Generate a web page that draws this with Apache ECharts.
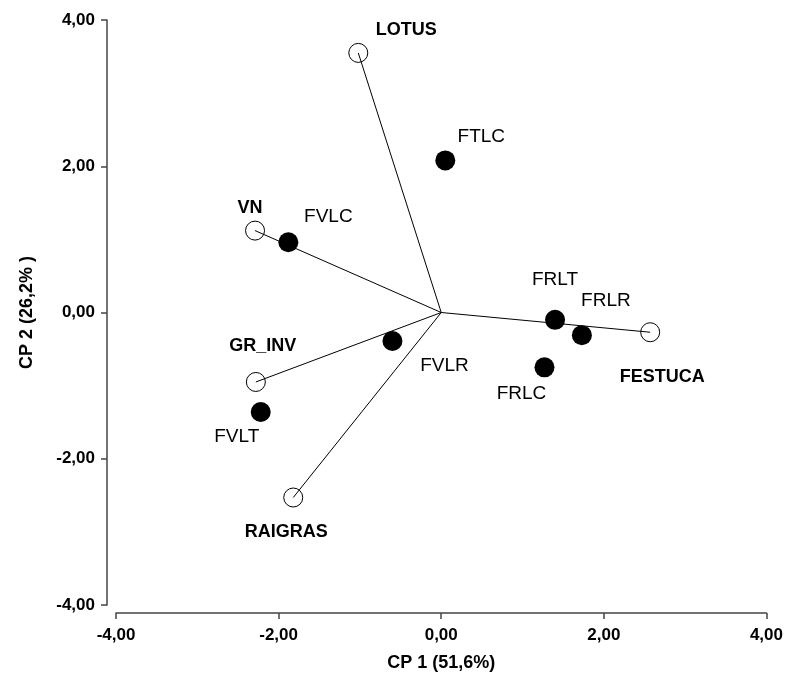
<!DOCTYPE html>
<html>
<head>
<meta charset="utf-8">
<script src="https://cdn.jsdelivr.net/npm/echarts@6/dist/echarts.min.js"></script>
<style>
  html, body { margin: 0; padding: 0; background: #fff; }
  #chart { width: 786px; height: 677px; }
</style>
</head>
<body>
<div id="chart"></div>
<script>
// Variables (vectors drawn from the origin, hollow markers)
const variables = ['LOTUS', 'VN', 'GR_INV', 'RAIGRAS', 'FESTUCA'];
const varX = [-1.02, -2.29, -2.28, -1.82, 2.57];
const varY = [3.55, 1.12, -0.95, -2.53, -0.27];

// Treatments (filled markers)
const sites = ['FTLC', 'FVLC', 'FVLR', 'FVLT', 'FRLT', 'FRLR', 'FRLC'];
const siteX = [0.05, -1.88, -0.60, -2.22, 1.40, 1.73, 1.27];
const siteY = [2.08, 0.96, -0.39, -1.36, -0.10, -0.31, -0.75];

// Axis ticks
const xTicks = [-4, -2, 0, 2, 4];
const yTicks = [-4, -2, 0, 2, 4];
const xName = 'CP 1 (51,6%)';
const yName = 'CP 2 (26,2% )';

// Label placement (pixel offsets from each marker)
const labelOffset = {
  LOTUS: [48, -23], VN: [-5, -23], GR_INV: [7, -36], RAIGRAS: [-7, 35], FESTUCA: [12, 45],
  FTLC: [36, -24], FVLC: [40, -26], FVLR: [52, 25], FVLT: [-24, 25],
  FRLT: [0, -40], FRLR: [24, -34], FRLC: [-23, 26]
};

const fmt = v => v.toFixed(2).replace('.', ',');
const axisColor = '#444';
const tickFont = { fontFamily: 'Liberation Sans', fontWeight: 'bold', fontSize: 17, color: '#000' };

const vectorSeries = variables.map((n, i) => ({
  type: 'line',
  data: [[0, 0], [varX[i], varY[i]]],
  symbol: 'none',
  silent: true,
  z: 1,
  lineStyle: { color: '#000', width: 1 }
}));

const option = {
  animation: false,
  grid: { left: 116, right: 18, top: 20, bottom: 71 },
  xAxis: {
    type: 'value', min: -4, max: 4, interval: 2,
    offset: 8,
    splitLine: { show: false },
    axisLine: { onZero: false, lineStyle: { color: axisColor, width: 1.5 } },
    axisTick: { show: true, length: 6, lineStyle: { color: axisColor, width: 1.5 } },
    axisLabel: Object.assign({ margin: 14, formatter: v => xTicks.includes(v) ? fmt(v) : '' }, tickFont),
    name: xName, nameLocation: 'middle', nameGap: 41,
    nameTextStyle: { fontFamily: 'Liberation Sans', fontWeight: 'bold', fontSize: 18, color: '#000' }
  },
  yAxis: {
    type: 'value', min: -4, max: 4, interval: 2,
    offset: 9,
    splitLine: { show: false },
    axisLine: { onZero: false, lineStyle: { color: axisColor, width: 1.5 } },
    axisTick: { show: true, length: 6, lineStyle: { color: axisColor, width: 1.5 } },
    axisLabel: Object.assign({ margin: 12, formatter: v => yTicks.includes(v) ? fmt(v) : '' }, tickFont),
    name: yName, nameLocation: 'middle', nameGap: 71, nameRotate: 90,
    nameTextStyle: { fontFamily: 'Liberation Sans', fontWeight: 'bold', fontSize: 18, color: '#000' }
  },
  series: [
    ...vectorSeries,
    {
      type: 'scatter',
      z: 3,
      symbol: 'circle',
      symbolSize: 19,
      itemStyle: { color: 'rgba(255,255,255,0)', borderColor: '#000', borderWidth: 1, opacity: 1 },
      data: variables.map((n, i) => ({
        name: n, value: [varX[i], varY[i]],
        label: { offset: labelOffset[n] }
      })),
      label: {
        show: true, position: 'inside', formatter: p => p.name,
        fontFamily: 'Liberation Sans', fontWeight: 'bold', fontSize: 18, color: '#000'
      }
    },
    {
      type: 'scatter',
      z: 4,
      symbol: 'circle',
      symbolSize: 20,
      itemStyle: { color: '#000', opacity: 1 },
      data: sites.map((n, i) => ({
        name: n, value: [siteX[i], siteY[i]],
        label: { offset: labelOffset[n] }
      })),
      label: {
        show: true, position: 'inside', formatter: p => p.name,
        fontFamily: 'Liberation Sans', fontWeight: 'normal', fontSize: 19, color: '#000'
      }
    }
  ]
};

const chart = echarts.init(document.getElementById('chart'), null, { renderer: 'canvas' });
chart.setOption(option);
</script>
</body>
</html>
